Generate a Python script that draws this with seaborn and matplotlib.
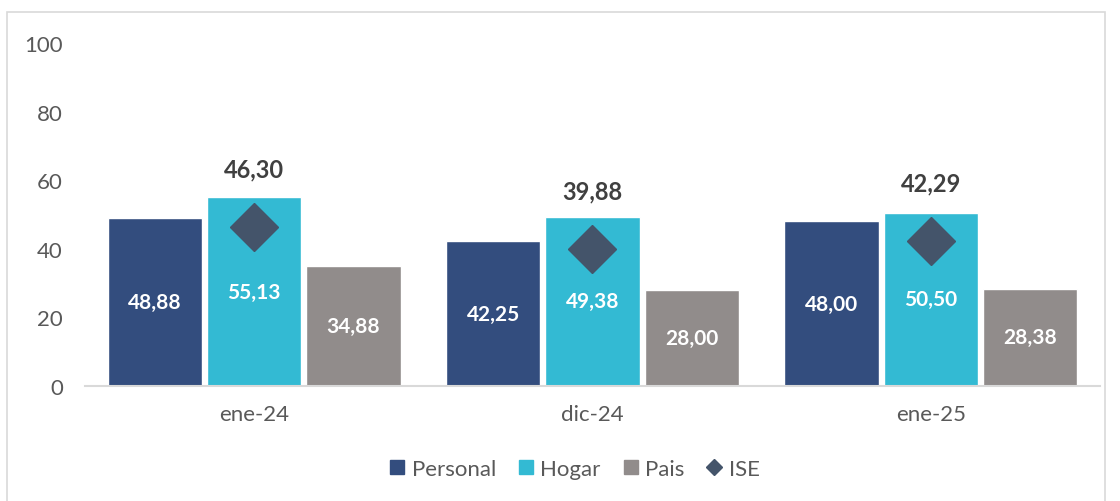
import pandas as pd
import numpy as np
import seaborn as sns
import matplotlib.pyplot as plt
from matplotlib.patches import Rectangle
from matplotlib.lines import Line2D

periods = ["ene-24", "dic-24", "ene-25"]
personal = [48.88, 42.25, 48.00]
hogar = [55.13, 49.38, 50.50]
pais = [34.88, 28.00, 28.38]
ise = [46.30, 39.88, 42.29]
series = ["Personal", "Hogar", "Pais"]

colors = {"Personal": "#334D7E", "Hogar": "#33BAD3", "Pais": "#918C8B"}
ise_color = "#44546A"

df = pd.DataFrame({
    "periodo": periods * 3,
    "serie": ["Personal"] * 3 + ["Hogar"] * 3 + ["Pais"] * 3,
    "valor": personal + hogar + pais,
})

sns.set_style("white")
plt.rcParams["font.family"] = ["Lato", "DejaVu Sans"]

fig = plt.figure(figsize=(11.2, 5.02), dpi=100)
ax = fig.add_axes([0.076, 0.229, 0.906, 0.683])

sns.barplot(data=df, x="periodo", y="valor", hue="serie", order=periods,
            hue_order=series, palette=colors, width=0.88, gap=0.05,
            saturation=1, ax=ax, legend=False)

def fmt(v):
    return f"{v:.2f}".replace(".", ",")

# labels in the middle of the bars
for cont in ax.containers:
    for bar in cont:
        h = bar.get_height()
        ax.text(bar.get_x() + bar.get_width() / 2, h / 2, fmt(h),
                ha="center", va="center", color="white",
                fontsize=15, fontweight="bold")

xs = np.arange(len(periods))
ax.plot(xs, ise, linestyle="none", marker="D", markersize=24,
        color=ise_color, zorder=5)
for x, v in zip(xs, ise):
    ax.annotate(fmt(v), (x, v), xytext=(0, 42), textcoords="offset points",
                ha="center", va="center", fontsize=17, fontweight="bold",
                color="#404040")

ax.set_ylim(0, 100)
ax.set_xlim(-0.5, 2.5)
ax.set_yticks(range(0, 101, 20))
ax.set_xlabel("")
ax.set_ylabel("")
ax.tick_params(axis="both", length=0, labelsize=16, labelcolor="#595959")
ax.tick_params(axis="x", pad=13)
ax.tick_params(axis="y", pad=16)
for s in ["top", "right", "left"]:
    ax.spines[s].set_visible(False)
ax.spines["bottom"].set_color("#D9D9D9")
ax.spines["bottom"].set_linewidth(1.5)

handles = [Line2D([], [], linestyle="none", marker="s", markersize=10,
                  color=colors[s]) for s in series]
handles.append(Line2D([], [], linestyle="none", marker="D", markersize=8,
                      color=ise_color))
fig.legend(handles, series + ["ISE"], loc="center", ncol=4,
           bbox_to_anchor=(0.513, 0.064), frameon=False, fontsize=16,
           handlelength=0.7, handletextpad=0.3, columnspacing=1.0,
           labelcolor="#595959")

fig.patches.append(Rectangle((0.006, -0.01), 0.981, 0.984,
                             transform=fig.transFigure, fill=False,
                             edgecolor="#D9D9D9", linewidth=1.2))

fig.savefig("out.png", dpi=100)
